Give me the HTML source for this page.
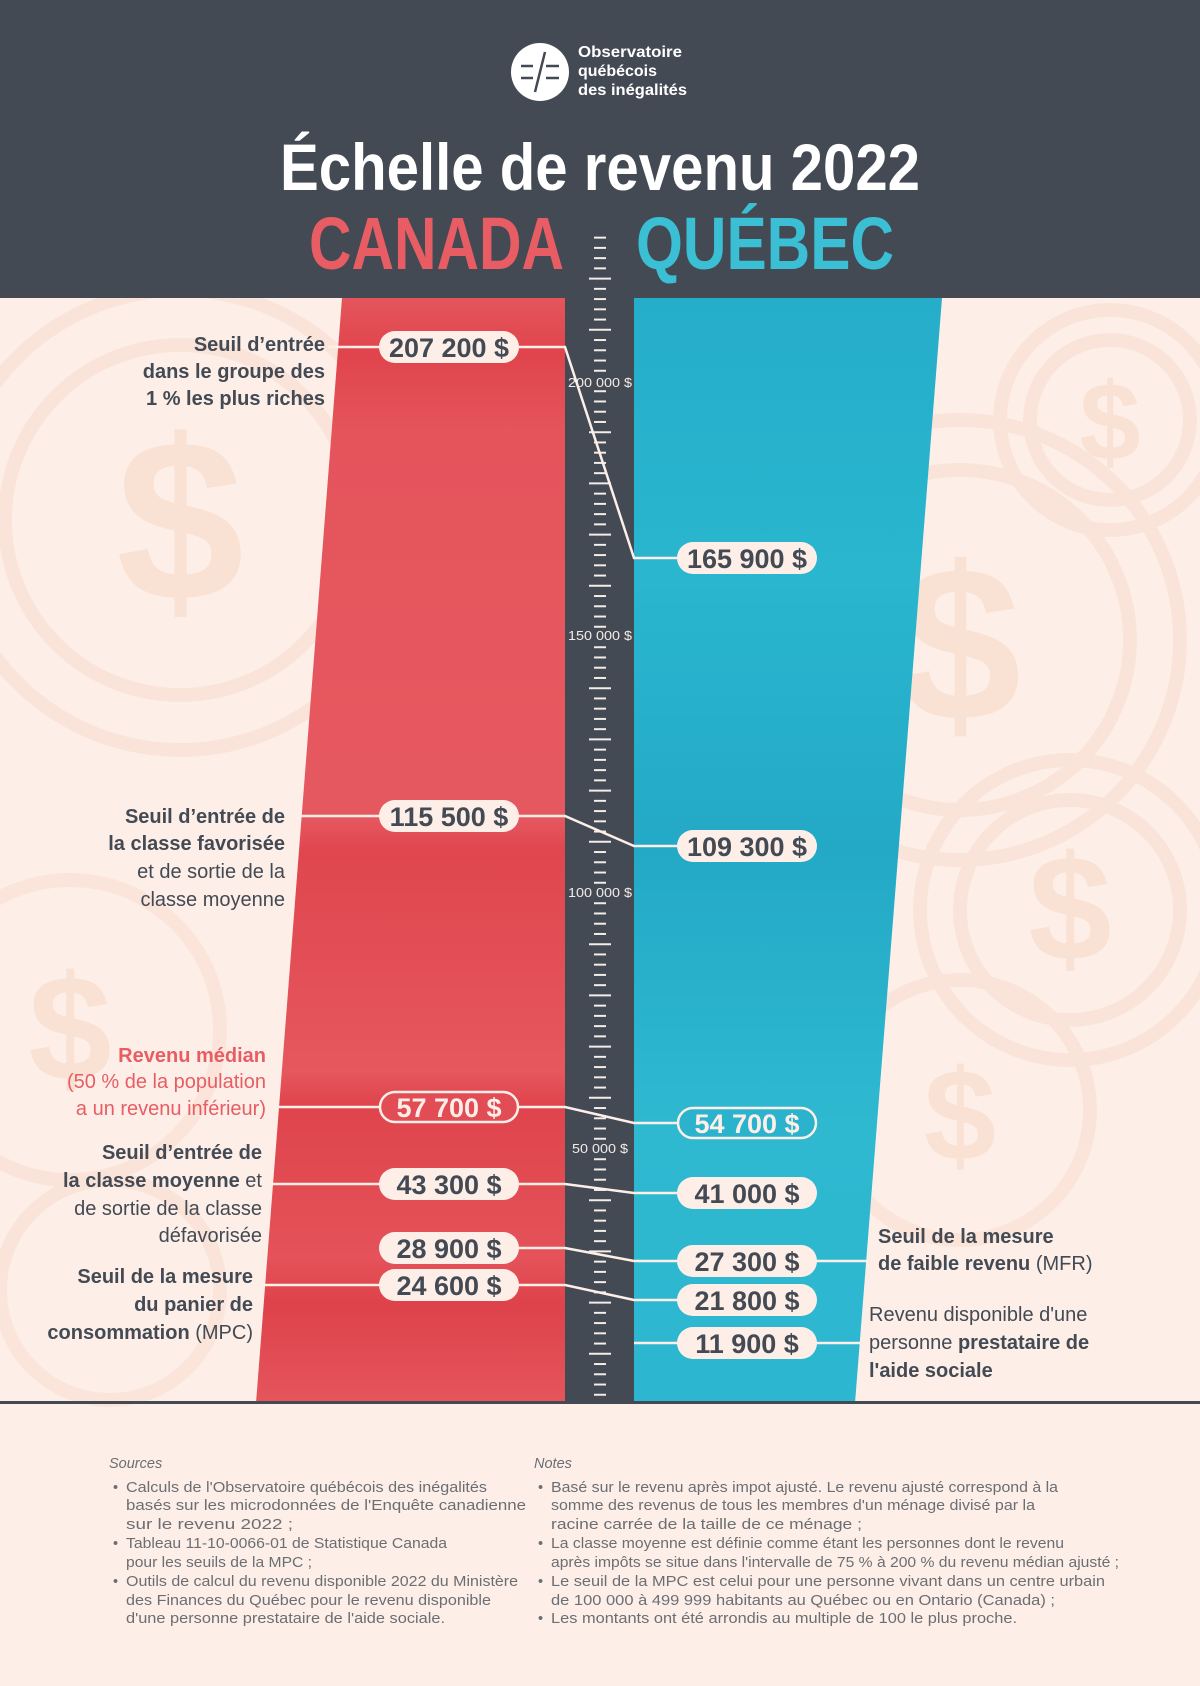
<!DOCTYPE html>
<html><head><meta charset="utf-8"><style>
html,body{margin:0;padding:0;background:#fdefe8;}
svg{display:block;}
text{font-family:"Liberation Sans",sans-serif;}
</style></head><body>
<svg width="1200" height="1686" viewBox="0 0 1200 1686" xmlns="http://www.w3.org/2000/svg">
<rect width="1200" height="1686" fill="#fdefe8"/>
<!-- decorative coins -->
<g fill="none" stroke="#f9dccd" stroke-width="14" opacity="0.55">
<circle cx="180" cy="520" r="230"/><circle cx="180" cy="520" r="175"/>
<circle cx="1110" cy="420" r="110"/><circle cx="1110" cy="420" r="80"/>
<circle cx="960" cy="640" r="220"/><circle cx="960" cy="640" r="170"/>
<circle cx="1070" cy="910" r="150"/><circle cx="1070" cy="910" r="110"/>
<circle cx="960" cy="1110" r="130"/>
<circle cx="70" cy="1030" r="150"/>
<circle cx="110" cy="1290" r="110"/>
</g>
<g fill="#f8d8c6" font-weight="bold" text-anchor="middle" opacity="0.6">
<text x="180" y="600" font-size="230">$</text>
<text x="1110" y="460" font-size="110">$</text>
<text x="960" y="720" font-size="220">$</text>
<text x="1070" y="960" font-size="150">$</text>
<text x="960" y="1160" font-size="130">$</text>
<text x="70" y="1080" font-size="150">$</text>
</g>
<!-- header -->
<rect x="0" y="0" width="1200" height="298" fill="#434a54"/>
<circle cx="540" cy="72" r="29" fill="#fff"/>
<g stroke="#434a54" stroke-width="2.5">
<line x1="521" y1="66" x2="533" y2="66"/><line x1="521" y1="78" x2="533" y2="78"/>
<line x1="546" y1="66" x2="559" y2="66"/><line x1="546" y1="78" x2="559" y2="78"/>
<line x1="545" y1="52" x2="535" y2="92"/>
</g>
<g fill="#fff" font-weight="bold" font-size="15.5">
<text x="578" y="57" textLength="104" lengthAdjust="spacingAndGlyphs">Observatoire</text>
<text x="578" y="76" textLength="79" lengthAdjust="spacingAndGlyphs">québécois</text>
<text x="578" y="95" textLength="109" lengthAdjust="spacingAndGlyphs">des inégalités</text>
</g>
<text x="600" y="190" text-anchor="middle" fill="#fff" font-weight="bold" font-size="66" textLength="640" lengthAdjust="spacingAndGlyphs">Échelle de revenu 2022</text>
<text x="309" y="269" fill="#e85d63" font-weight="bold" font-size="74" textLength="255" lengthAdjust="spacingAndGlyphs">CANADA</text>
<text x="636" y="269" fill="#3bbfd4" font-weight="bold" font-size="74" textLength="258" lengthAdjust="spacingAndGlyphs">QUÉBEC</text>
<!-- shapes -->
<defs>
<linearGradient id="rg" x1="0" y1="0" x2="0" y2="1">
<stop offset="0" stop-color="#e5555c"/><stop offset="0.05" stop-color="#e0444c"/><stop offset="0.12" stop-color="#e5545b"/>
<stop offset="0.47" stop-color="#e65860"/><stop offset="0.5" stop-color="#e0464e"/><stop offset="0.7" stop-color="#e6575e"/>
<stop offset="0.73" stop-color="#df444c"/><stop offset="0.87" stop-color="#e55259"/><stop offset="0.91" stop-color="#de424a"/><stop offset="1" stop-color="#e5555c"/>
</linearGradient>
<linearGradient id="bg" x1="0" y1="0" x2="0" y2="1">
<stop offset="0" stop-color="#25adc9"/><stop offset="0.25" stop-color="#2ab6cf"/><stop offset="0.5" stop-color="#23a9c6"/>
<stop offset="0.75" stop-color="#2fb9d1"/><stop offset="1" stop-color="#2db6cf"/>
</linearGradient>
</defs>
<polygon points="342,298 565,298 565,1403 256,1403" fill="url(#rg)"/>
<polygon points="634,298 942,298 855,1403 634,1403" fill="url(#bg)"/>
<rect x="565" y="298" width="69" height="1105" fill="#434a54"/>
<rect x="0" y="1401" width="1200" height="3" fill="#434a54"/>
<!-- ticks -->
<g stroke="#f3ece8" stroke-width="2" id="ticks"></g>
<g fill="#f3ece8" font-size="12.5" text-anchor="middle">
<text x="600" y="387" textLength="64" lengthAdjust="spacingAndGlyphs">200 000 $</text>
<text x="600" y="640" textLength="64" lengthAdjust="spacingAndGlyphs">150 000 $</text>
<text x="600" y="897" textLength="64" lengthAdjust="spacingAndGlyphs">100 000 $</text>
<text x="600" y="1153" textLength="56" lengthAdjust="spacingAndGlyphs">50 000 $</text>
</g>
<!-- connectors -->
<g stroke="#fdefe8" stroke-width="2.5" fill="none">
<polyline points="328,347 565,347 634,558 747,558"/>
<polyline points="285,816 565,816 634,846 747,846"/>
<polyline points="255,1107 565,1107 634,1123 747,1123"/>
<polyline points="255,1184 565,1184 634,1193 747,1193"/>
<polyline points="449,1248 565,1248 634,1261 869,1261"/>
<polyline points="245,1285 565,1285 634,1300 747,1300"/>
<polyline points="634,1343 860,1343"/>
</g>
<!-- pills -->
<g font-weight="bold" font-size="27" text-anchor="middle">
<g fill="#fdefe8">
<rect x="379" y="331" width="140" height="32" rx="16"/>
<rect x="379" y="800" width="140" height="32" rx="16"/>
<rect x="379" y="1168" width="140" height="32" rx="16"/>
<rect x="379" y="1232" width="140" height="32" rx="16"/>
<rect x="379" y="1269" width="140" height="32" rx="16"/>
<rect x="677" y="542" width="140" height="32" rx="16"/>
<rect x="677" y="830" width="140" height="32" rx="16"/>
<rect x="677" y="1177" width="140" height="32" rx="16"/>
<rect x="677" y="1245" width="140" height="32" rx="16"/>
<rect x="677" y="1284" width="140" height="32" rx="16"/>
<rect x="677" y="1327" width="140" height="32" rx="16"/>
</g>
<rect x="380" y="1092" width="138" height="30" rx="15" fill="#e24d55" stroke="#fdefe8" stroke-width="2.5"/>
<rect x="678" y="1108" width="138" height="30" rx="15" fill="#2bb3cd" stroke="#fdefe8" stroke-width="2.5"/>
<g fill="#434a54">
<text x="449" y="357">207 200 $</text>
<text x="449" y="826">115 500 $</text>
<text x="449" y="1194">43 300 $</text>
<text x="449" y="1258">28 900 $</text>
<text x="449" y="1295">24 600 $</text>
<text x="747" y="568">165 900 $</text>
<text x="747" y="856">109 300 $</text>
<text x="747" y="1203">41 000 $</text>
<text x="747" y="1271">27 300 $</text>
<text x="747" y="1310">21 800 $</text>
<text x="747" y="1353">11 900 $</text>
</g>
<g fill="#fdefe8">
<text x="449" y="1117">57 700 $</text>
<text x="747" y="1133">54 700 $</text>
</g>
</g>
<!-- labels -->
<g fill="#434a54" font-size="20" text-anchor="end">
<text x="325" y="351" font-weight="bold">Seuil d’entrée</text>
<text x="325" y="378" font-weight="bold">dans le groupe des</text>
<text x="325" y="405" font-weight="bold">1 % les plus riches</text>
<text x="285" y="823" font-weight="bold">Seuil d’entrée de</text>
<text x="285" y="850" font-weight="bold">la classe favorisée</text>
<text x="285" y="878">et de sortie de la</text>
<text x="285" y="906">classe moyenne</text>
<text x="262" y="1159" font-weight="bold">Seuil d’entrée de</text>
<text x="262" y="1187"><tspan font-weight="bold">la classe moyenne</tspan> et</text>
<text x="262" y="1215">de sortie de la classe</text>
<text x="262" y="1242">défavorisée</text>
<text x="253" y="1283" font-weight="bold">Seuil de la mesure</text>
<text x="253" y="1311" font-weight="bold">du panier de</text>
<text x="253" y="1339"><tspan font-weight="bold">consommation</tspan> (MPC)</text>
</g>
<g fill="#e85d63" font-size="20" text-anchor="end">
<text x="266" y="1062" font-weight="bold">Revenu médian</text>
<text x="266" y="1088">(50 % de la population</text>
<text x="266" y="1115">a un revenu inférieur)</text>
</g>
<g fill="#434a54" font-size="20">
<text x="878" y="1243" font-weight="bold">Seuil de la mesure</text>
<text x="878" y="1270"><tspan font-weight="bold">de faible revenu</tspan> (MFR)</text>
<text x="869" y="1321">Revenu disponible d'une</text>
<text x="869" y="1349">personne <tspan font-weight="bold">prestataire de</tspan></text>
<text x="869" y="1377" font-weight="bold">l'aide sociale</text>
</g>
<!-- footer -->
<g fill="#6b6e73" font-size="14.5">
<text x="109" y="1468" font-style="italic">Sources</text>
<text x="534" y="1468" font-style="italic">Notes</text>
<g>
<text x="113" y="1492">•</text><text x="126" y="1492" textLength="361" lengthAdjust="spacingAndGlyphs">Calculs de l'Observatoire québécois des inégalités</text>
<text x="126" y="1510" textLength="400" lengthAdjust="spacingAndGlyphs">basés sur les microdonnées de l'Enquête canadienne</text>
<text x="126" y="1529" textLength="167" lengthAdjust="spacingAndGlyphs">sur le revenu 2022 ;</text>
<text x="113" y="1548">•</text><text x="126" y="1548" textLength="321" lengthAdjust="spacingAndGlyphs">Tableau 11-10-0066-01 de Statistique Canada</text>
<text x="126" y="1567" textLength="186" lengthAdjust="spacingAndGlyphs">pour les seuils de la MPC ;</text>
<text x="113" y="1586">•</text><text x="126" y="1586" textLength="392" lengthAdjust="spacingAndGlyphs">Outils de calcul du revenu disponible 2022 du Ministère</text>
<text x="126" y="1605" textLength="365" lengthAdjust="spacingAndGlyphs">des Finances du Québec pour le revenu disponible</text>
<text x="126" y="1623" textLength="319" lengthAdjust="spacingAndGlyphs">d'une personne prestataire de l'aide sociale.</text>
</g>
<g>
<text x="538" y="1492">•</text><text x="551" y="1492" textLength="507" lengthAdjust="spacingAndGlyphs">Basé sur le revenu après impot ajusté. Le revenu ajusté correspond à la</text>
<text x="551" y="1510" textLength="484" lengthAdjust="spacingAndGlyphs">somme des revenus de tous les membres d'un ménage divisé par la</text>
<text x="551" y="1529" textLength="311" lengthAdjust="spacingAndGlyphs">racine carrée de la taille de ce ménage ;</text>
<text x="538" y="1548">•</text><text x="551" y="1548" textLength="513" lengthAdjust="spacingAndGlyphs">La classe moyenne est définie comme étant les personnes dont le revenu</text>
<text x="551" y="1567" textLength="568" lengthAdjust="spacingAndGlyphs">après impôts se situe dans l'intervalle de 75 % à 200 % du revenu médian ajusté ;</text>
<text x="538" y="1586">•</text><text x="551" y="1586" textLength="554" lengthAdjust="spacingAndGlyphs">Le seuil de la MPC est celui pour une personne vivant dans un centre urbain</text>
<text x="551" y="1605" textLength="504" lengthAdjust="spacingAndGlyphs">de 100 000 à 499 999 habitants au Québec ou en Ontario (Canada) ;</text>
<text x="538" y="1623">•</text><text x="551" y="1623" textLength="466" lengthAdjust="spacingAndGlyphs">Les montants ont été arrondis au multiple de 100 le plus proche.</text>
</g>
</g>
</svg>
<script>
(function(){
var g=document.getElementById('ticks');var ns='http://www.w3.org/2000/svg';
for(var v=2000;v<=228000;v+=2000){
 if(v%50000===0)continue;
 var y=1149+(50000-v)*256/50000;
 var l=document.createElementNS(ns,'line');
 var long=(v%10000===0);
 l.setAttribute('x1',long?589:594);l.setAttribute('x2',long?611:606);
 l.setAttribute('y1',y);l.setAttribute('y2',y);
 g.appendChild(l);
}
})();
</script>
</body></html>
